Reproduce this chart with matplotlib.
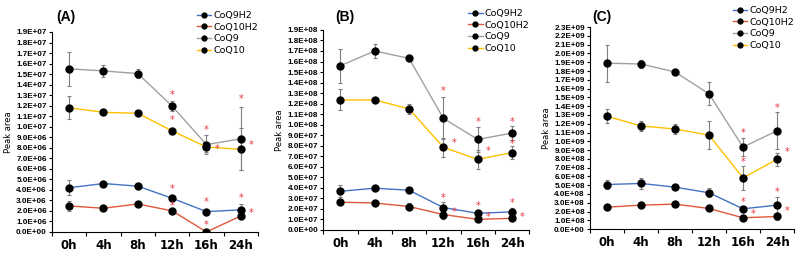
import matplotlib
matplotlib.use("Agg")
import matplotlib.pyplot as plt
import matplotlib.ticker as mticker
import numpy as np

plt.rcParams["font.family"] = ["DejaVu Sans"]

hours = ["0h", "4h", "8h", "12h", "16h", "24h"]
series_names = ["CoQ9H2", "CoQ10H2", "CoQ9", "CoQ10"]
series_colors = ["#4472C4", "#E0583A", "#A0A0A0", "#FFC000"]

# panel A (units 1E6)
a_coq9h2 = [4.2, 4.6, 4.35, 3.2, 1.93, 2.1]
a_coq9h2_err = [0.7, 0.15, 0.25, 0.25, 0.1, 0.6]
a_coq10h2 = [2.47, 2.25, 2.66, 2.0, 0.0, 1.52]
a_coq10h2_err = [0.5, 0.1, 0.1, 0.1, 0.0, 0.2]
a_coq9 = [15.5, 15.3, 15.05, 11.95, 8.3, 8.85]
a_coq9_err = [1.6, 0.6, 0.4, 0.5, 0.9, 3.0]
a_coq10 = [11.8, 11.37, 11.27, 9.6, 8.07, 7.85]
a_coq10_err = [1.1, 0.3, 0.1, 0.3, 0.5, 2.0]

# panel B (units 1E7)
b_coq9h2 = [3.67, 3.96, 3.77, 2.12, 1.58, 1.71]
b_coq9h2_err = [0.55, 0.1, 0.1, 0.5, 0.3, 0.35]
b_coq10h2 = [2.63, 2.56, 2.22, 1.46, 1.0, 1.1]
b_coq10h2_err = [0.1, 0.1, 0.35, 0.4, 0.1, 0.1]
b_coq9 = [15.6, 17.0, 16.3, 10.6, 8.6, 9.2]
b_coq9_err = [1.6, 0.7, 0.25, 2.0, 1.2, 0.7]
b_coq10 = [12.35, 12.35, 11.5, 7.85, 6.7, 7.35]
b_coq10_err = [1.0, 0.1, 0.5, 0.9, 0.9, 0.6]

# panel C (units 1E8)
c_coq9h2 = [5.08, 5.2, 4.78, 4.14, 2.31, 2.73]
c_coq9h2_err = [0.55, 0.6, 0.2, 0.5, 0.35, 0.9]
c_coq10h2 = [2.5, 2.73, 2.85, 2.35, 1.29, 1.44]
c_coq10h2_err = [0.3, 0.35, 0.2, 0.1, 0.1, 0.4]
c_coq9 = [18.9, 18.8, 17.9, 15.4, 9.34, 11.2]
c_coq9_err = [2.1, 0.45, 0.1, 1.3, 1.05, 2.1]
c_coq10 = [12.85, 11.75, 11.4, 10.7, 5.84, 7.95]
c_coq10_err = [0.8, 0.6, 0.6, 1.6, 1.4, 0.75]

# significance stars: (x index, y value, x offset in categories)
a_stars = [(3, 13.0, 0), (3, 10.6, 0), (3, 4.1, 0), (3, 2.45, 0),
           (4, 9.66, 0), (4, 7.85, 0.3), (4, 2.85, 0), (4, 0.66, 0),
           (5, 12.6, 0), (5, 8.3, 0.3), (5, 3.2, 0), (5, 1.77, 0.3)]
b_stars = [(3, 13.2, 0), (3, 8.3, 0.3), (3, 3.07, 0), (3, 1.68, 0.3),
           (4, 10.26, 0), (4, 7.5, 0.3), (4, 2.28, 0), (4, 1.27, 0.3),
           (5, 10.3, 0), (5, 8.2, 0), (5, 2.6, 0), (5, 1.27, 0.3)]
c_stars = [(4, 10.9, 0), (4, 7.6, 0), (4, 3.1, 0), (4, 1.75, 0.3),
           (5, 13.8, 0), (5, 8.8, 0.3), (5, 4.25, 0), (5, 2.05, 0.3)]

panels = [
    ("(A)", 1e6, 19, [a_coq9h2, a_coq10h2, a_coq9, a_coq10],
     [a_coq9h2_err, a_coq10h2_err, a_coq9_err, a_coq10_err], a_stars,
     [0.065, 0.094, 0.2575, 0.781], 56),
    ("(B)", 1e7, 19, [b_coq9h2, b_coq10h2, b_coq9, b_coq10],
     [b_coq9h2_err, b_coq10h2_err, b_coq9_err, b_coq10_err], b_stars,
     [0.404, 0.102, 0.2575, 0.781], 335),
    ("(C)", 1e8, 23, [c_coq9h2, c_coq10h2, c_coq9, c_coq10],
     [c_coq9h2_err, c_coq10h2_err, c_coq9_err, c_coq10_err], c_stars,
     [0.7375, 0.105, 0.255, 0.789], 592),
]

fig = plt.figure(figsize=(8, 2.56), dpi=100)
x = np.arange(len(hours))
tick_font = ["Liberation Sans", "DejaVu Sans"]

for title, unit, ymax, vals, errs, stars, rect, title_px in panels:
    ax = fig.add_axes(rect)
    for name, color, v, e in zip(series_names, series_colors, vals, errs):
        v = np.array(v) * unit
        e = np.array(e) * unit
        ax.errorbar(x, v, yerr=e, fmt="none", ecolor="#7f7f7f", elinewidth=0.8,
                    capsize=1.5, capthick=0.8, zorder=2)
        ax.plot(x, v, color=color, linewidth=1.0, marker="o", markersize=5,
                markerfacecolor="black", markeredgecolor="black", label=name, zorder=3)
    for xi, yv, dx in stars:
        ax.text(xi + dx, yv * unit, "*", color="#E8333A", fontsize=7,
                ha="center", va="center", zorder=4)

    ax.set_xlim(-0.5, 5.5)
    ax.set_ylim(0, ymax * unit)
    ax.yaxis.set_major_locator(mticker.MultipleLocator(unit))
    ax.yaxis.set_major_formatter(mticker.FuncFormatter(lambda v, _: f"{v:.1E}"))
    ax.set_xticks(x)
    ax.set_xticklabels(hours, fontsize=8.5, fontweight="bold")
    ax.set_xticks(np.arange(-0.5, 6.0, 1.0), minor=True)
    ax.tick_params(axis="x", which="major", length=0, pad=5)
    ax.tick_params(axis="x", which="minor", length=3, width=0.8)
    ax.tick_params(axis="y", length=2.5, width=0.8, pad=1.2)
    for lab in ax.get_yticklabels():
        lab.set_fontfamily(tick_font)
        lab.set_fontsize(5.9)
        lab.set_fontweight("bold")
    ax.spines[["top", "right"]].set_visible(False)
    ax.spines[["left", "bottom"]].set_linewidth(0.8)
    ax.set_ylabel("Peak area", fontsize=6)
    ax.yaxis.set_label_coords(-0.19, 0.5)

    ax.legend(loc="upper right", bbox_to_anchor=(1.0, 1.105), frameon=False,
              fontsize=6.8, handlelength=1.5, handletextpad=0.2, labelspacing=0.28,
              markerscale=0.7, borderaxespad=0, borderpad=0)
    fig.text(title_px / 800, 0.934, title, fontsize=10, fontweight="bold",
             family=["Liberation Sans", "DejaVu Sans"], ha="left", va="center")

fig.savefig("out.png", dpi=100)
